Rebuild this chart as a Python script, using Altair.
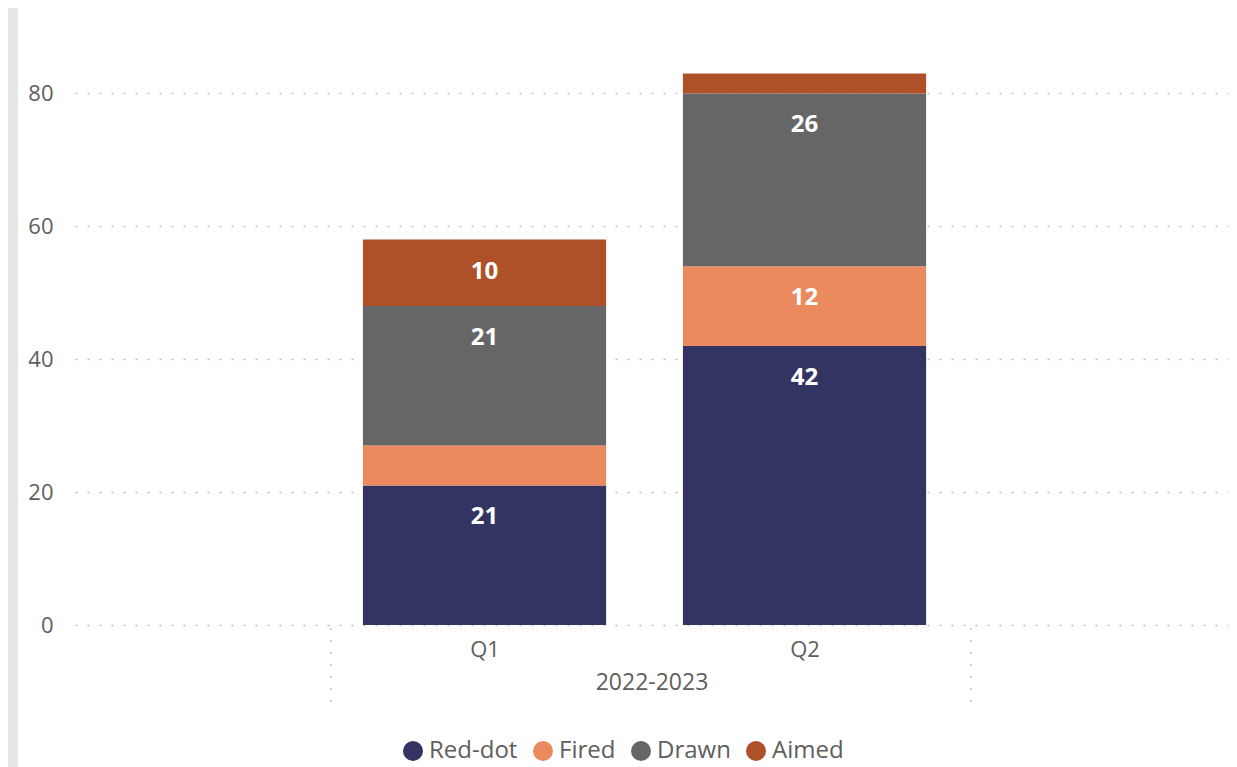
import altair as alt
import pandas as pd

quarters = ["Q1", "Q2"]
quarter_pos = [1, 2]
series = ["Red-dot", "Fired", "Drawn", "Aimed"]
colors = ["#343462", "#EB895F", "#666666", "#AE5128"]
red_dot = [21, 42]
fired = [6, 12]
drawn = [21, 26]
aimed = [10, 3]
group_label = "2022-2023"
group_edges = [0.52, 2.52]

rows = []
for i, q in enumerate(quarters):
    for k, (s, vals) in enumerate(zip(series, [red_dot, fired, drawn, aimed])):
        rows.append({"quarter": q, "pos": quarter_pos[i], "series": s, "order": k, "value": vals[i]})
df = pd.DataFrame(rows)
edges = pd.DataFrame({"edge": group_edges})

W, H = 1153, 598
FONT = "Segoe UI, Open Sans, Noto Sans, sans-serif"
TXT = "#605E5C"

xscale = alt.Scale(domain=[-0.2797, 3.3234], nice=False, zero=False)
yscale = alt.Scale(domain=[0, 90], nice=False)

base = alt.Chart(df).transform_stack(
    stack="value", groupby=["quarter"], as_=["y0", "y1"], sort=[alt.SortField("order")]
).transform_calculate(
    xa="datum.pos - 0.38", xb="datum.pos + 0.38"
)

bars = base.mark_rect().encode(
    x=alt.X("xa:Q", scale=xscale,
            axis=alt.Axis(values=quarter_pos, labelExpr="datum.value == 1 ? 'Q1' : 'Q2'",
                          ticks=False, domain=False, grid=False, labelFontSize=22,
                          labelColor=TXT, labelFont=FONT, labelPadding=14,
                          title=group_label, titleFontSize=23, titleFontWeight="normal",
                          titleColor=TXT, titleFont=FONT, titlePadding=11)),
    x2="xb:Q",
    y=alt.Y("y0:Q", scale=yscale,
            axis=alt.Axis(values=[0, 20, 40, 60, 80], ticks=False, domain=False, grid=True,
                          gridDash=[2, 10], gridColor="#C0C0C0", gridWidth=1.5,
                          labelFontSize=22, labelColor=TXT, labelFont=FONT,
                          labelPadding=22, title=None)),
    y2="y1:Q",
    color=alt.Color("series:N", scale=alt.Scale(domain=series, range=colors),
                    legend=alt.Legend(orient="none", direction="horizontal", title=None,
                                      legendX=326, legendY=712, symbolType="circle",
                                      symbolSize=400, symbolOpacity=1, labelFontSize=24,
                                      labelColor=TXT, labelFont=FONT, labelOffset=4,
                                      columnPadding=13, symbolStrokeWidth=0)),
)

labels = base.transform_filter("datum.value >= 10").mark_text(
    color="white", fontSize=24, fontWeight="bold", font=FONT, baseline="middle", dy=32
).encode(
    x=alt.X("pos:Q", scale=xscale),
    y=alt.Y("y1:Q", scale=yscale),
    text="value:Q",
)

seps = alt.Chart(edges).mark_rule(color="#C0C0C0", strokeWidth=1.5, strokeDash=[2, 10]).encode(
    x=alt.X("edge:Q", scale=xscale),
    y=alt.value(H + 3),
    y2=alt.value(H + 78),
)

strip = alt.Chart(edges.head(1)).mark_rule(color="#E6E6E6", strokeWidth=10).encode(
    x=alt.value(-62),
    y=alt.value(-30),
    y2=alt.value(H + 160),
)

chart = alt.layer(strip, seps, bars, labels).properties(
    width=W, height=H,
    background="white",
    autosize=alt.AutoSizeParams(type="none"),
    padding={"left": 67, "top": 19, "right": 1, "bottom": 142},
).configure_view(stroke=None, strokeWidth=0)

chart.save("out.html", embed_options={"renderer": "svg", "actions": False})
